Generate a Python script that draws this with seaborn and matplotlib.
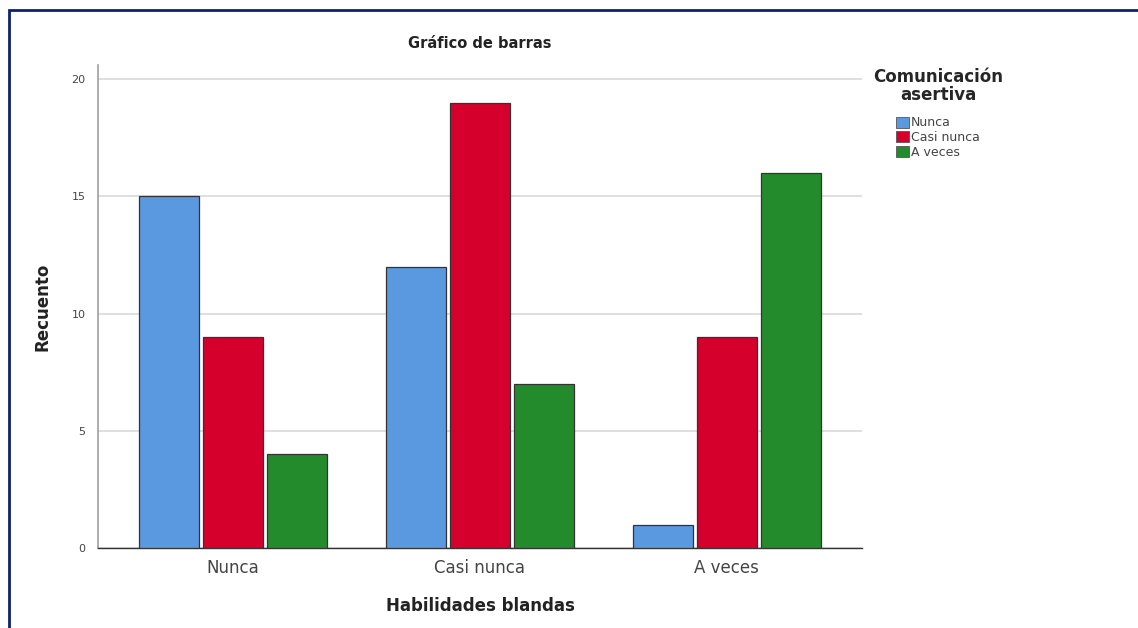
import matplotlib
matplotlib.use("Agg")
import matplotlib.pyplot as plt
import matplotlib.patches as mpatches
import seaborn as sns
import pandas as pd

# --- datos ---
categorias = ["Nunca", "Casi nunca", "A veces"]
series = ["Nunca", "Casi nunca", "A veces"]
valores_nunca = [15, 12, 1]
valores_casi_nunca = [9, 19, 9]
valores_a_veces = [4, 7, 16]
colores = ["#5A98E0", "#D5002C", "#238B2C"]

filas = []
for serie, vals in zip(series, [valores_nunca, valores_casi_nunca, valores_a_veces]):
    for cat, v in zip(categorias, vals):
        filas.append({"Habilidades blandas": cat, "Comunicación asertiva": serie, "Recuento": v})
df = pd.DataFrame(filas)

sns.set_theme(style="white")
plt.rcParams["font.family"] = ["DejaVu Sans"]

fig = plt.figure(figsize=(11.38, 6.28), dpi=100)
ax = fig.add_axes([98 / 1138, 1 - 548 / 628, 764 / 1138, 483 / 628])

sns.barplot(data=df, x="Habilidades blandas", y="Recuento", hue="Comunicación asertiva",
            order=categorias, hue_order=series, palette=colores, width=0.775, gap=0.06,
            edgecolor="#333333", linewidth=0.9, saturation=1, ax=ax, zorder=3)

ax.set_xlim(-0.547, 2.547)
ax.set_ylim(0, 20.6)
ax.set_yticks([0, 5, 10, 15, 20])
ax.yaxis.grid(True, color="#d9d9d9", linewidth=1.2, zorder=0)
ax.set_axisbelow(True)

for s in ["top", "right"]:
    ax.spines[s].set_visible(False)
ax.spines["left"].set_color("#a0a0a0")
ax.spines["left"].set_linewidth(1.2)
ax.spines["bottom"].set_color("#333333")
ax.spines["bottom"].set_linewidth(1.0)
ax.tick_params(axis="y", labelsize=8, labelcolor="#444444", length=0, pad=9)
ax.tick_params(axis="x", labelsize=12, labelcolor="#444444", length=0, pad=8)

ax.set_title("Gráfico de barras", fontsize=10.5, fontweight="bold", pad=12, color="#222222")
ax.set_ylabel("Recuento", fontsize=12, fontweight="bold", labelpad=14, color="#222222")
ax.set_xlabel("Habilidades blandas", fontsize=12, fontweight="bold", labelpad=14, color="#222222")

# leyenda
ax.get_legend().remove()
handles = [mpatches.Patch(facecolor=c, edgecolor="#555555", linewidth=0.6) for c in colores]
leg = fig.legend(handles, series, title="Comunicación\nasertiva", loc="upper left",
                 bbox_to_anchor=(868 / 1138, 1 - 63 / 628), frameon=False,
                 fontsize=9, title_fontsize=12, handlelength=1.0, handleheight=1.0,
                 handletextpad=0.15, labelspacing=0.12, borderaxespad=0)
leg.get_title().set_fontweight("bold")
leg.get_title().set_multialignment("center")
leg.get_title().set_linespacing(1.0)
leg._legend_box.sep = 9
for t in leg.get_texts():
    t.set_color("#444444")

# marco azul del recorte
marco = mpatches.Rectangle((9 / 1138, -0.2), 1.2, 1.2 - 10 / 628, transform=fig.transFigure,
                           fill=False, edgecolor="#0B2472", linewidth=2.0)
fig.patches.append(marco)

fig.savefig("out.png", dpi=100)
